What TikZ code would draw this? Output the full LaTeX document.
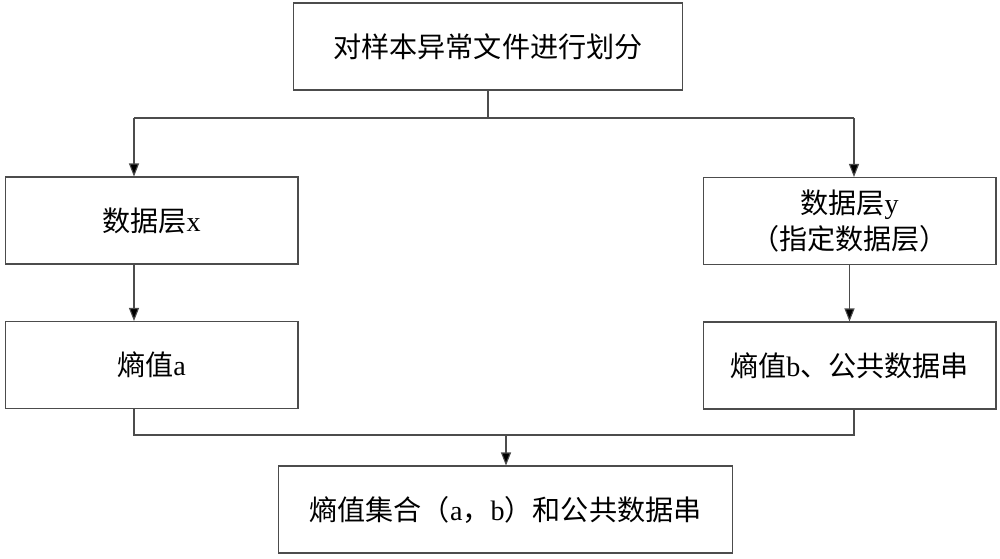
\documentclass[tikz,border=0pt]{standalone}
\usepackage{fontspec}
\setmainfont{Liberation Serif}
\newfontfamily\cjk{Noto Sans CJK SC}
\usetikzlibrary{arrows.meta}
\begin{document}
\begin{tikzpicture}[x=0.02cm, y=-0.02cm]
\tikzstyle{box}=[draw=black!70, line width=0.6pt, minimum height=1.74cm, align=center, inner sep=2pt, font=\fontsize{16}{21}\selectfont]
\tikzstyle{ln}=[draw=black!70, line width=0.6pt]
\tikzstyle{arr}=[ln, -{Triangle[length=0.26cm, width=0.2cm, fill=black]}]
\useasboundingbox (0,0) rectangle (1000,558);

\node[box, minimum width=7.78cm](split)   at (488, 46.5) {{\cjk 对样本异常文件进行划分}} ;
\node[box, minimum width=5.86cm](layerx)  at (151.5, 220.5) {{\cjk 数据层}x} ;
\node[box, minimum width=5.86cm](entra)   at (151.5, 365) {{\cjk 熵值}a} ;
\node[box, minimum width=5.86cm](layery)  at (849.5, 221) {{\cjk 数据层}y\\{\cjk （指定数据层）}} ;
\node[box, minimum width=5.86cm](entrb)   at (849.5, 365.5) {{\cjk 熵值}b{\cjk 、公共数据串}} ;
\node[box, minimum width=9.1cm](result)   at (505.5, 509.5) {{\cjk 熵值集合（}a{\cjk ，}b{\cjk ）和公共数据串}} ;

\coordinate (jl) at (134, 118) ;
\coordinate (jr) at (854, 118) ;
\coordinate (jb) at (506, 435) ;

\draw[ln]  (split.south) -- (split.south |- jl) ;
\draw[arr] (jl) -- (jl |- layerx.north) ;
\draw[arr] (jr) -- (jr |- layery.north) ;
\draw[ln]  (jl) -- (jr) ;
\draw[arr] (jl |- layerx.south) -- (jl |- entra.north) ;
\draw[arr] (layery.south) -- (entrb.north) ;
\draw[ln]  (jl |- entra.south) -- (jl |- jb) -- (jr |- jb) -- (jr |- entrb.south) ;
\draw[arr] (jb) -- (jb |- result.north) ;
\end{tikzpicture}
\end{document}
